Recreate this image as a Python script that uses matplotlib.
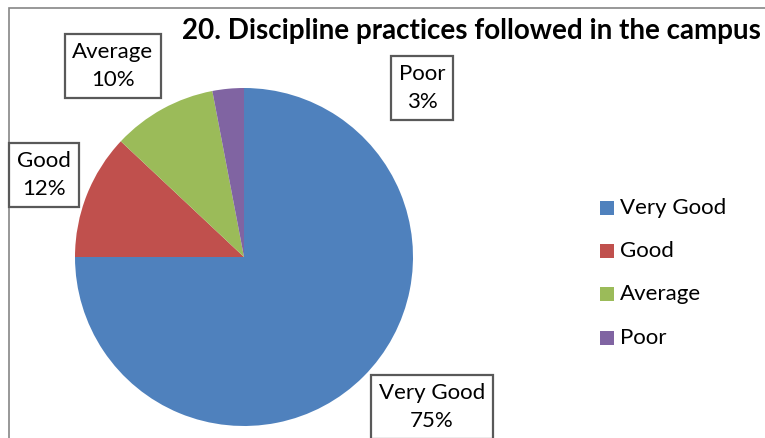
import matplotlib
matplotlib.use("Agg")
import matplotlib.pyplot as plt
from matplotlib.patches import Rectangle

categories = ["Very Good", "Good", "Average", "Poor"]
values = [75, 12, 10, 3]
colors = ["#4F81BD", "#C0504D", "#9BBB59", "#8064A2"]
title = "20. Discipline practices followed in the campus"

W, H = 765, 438
fig = plt.figure(figsize=(W / 100, H / 100), dpi=100)
plt.rcParams['font.family'] = ['Lato', 'DejaVu Sans']

# chart border (cropped on right and bottom)
fig.patches.append(Rectangle((9 / W, 0 - 0.05), 1.1, 1 - 8 / H + 0.05,
                             transform=fig.transFigure, fill=False,
                             edgecolor="#868686", linewidth=1.2))

cx, cy, r = 244, 257, 169
ax = fig.add_axes([(cx - r) / W, (H - cy - r) / H, 2 * r / W, 2 * r / H])
wedges, _ = ax.pie(values, colors=colors, startangle=90, counterclock=False,
                   radius=1, wedgeprops=dict(linewidth=0))
ax.set_xlim(-1, 1)
ax.set_ylim(-1, 1)
ax.set_aspect("auto")
ax.axis("off")

# data label positions (pixel centres)
label_pos = {"Very Good": (432, 407), "Good": (44, 175), "Average": (113, 66), "Poor": (422, 88)}
for cat, v in zip(categories, values):
    x, y = label_pos[cat]
    fig.text(x / W, 1 - y / H, f"{cat}\n{v}%", ha="center", va="center",
             fontsize=16, linespacing=1.5, color="black",
             bbox=dict(boxstyle="square,pad=0.35", facecolor="white",
                       edgecolor="#595959", linewidth=1.6))

fig.text(471 / W, 1 - 31 / H, title, ha="center", va="center",
         fontsize=20, fontweight="bold")

# legend
leg_y = [208, 251, 294, 338]
for cat, c, y in zip(categories, colors, leg_y):
    fig.patches.append(Rectangle((600 / W, 1 - (y + 7) / H), 14 / W, 14 / H,
                                 transform=fig.transFigure, facecolor=c, edgecolor="none"))
    fig.text(620 / W, 1 - y / H, cat, ha="left", va="center", fontsize=16)

fig.savefig("out.png", dpi=100)
